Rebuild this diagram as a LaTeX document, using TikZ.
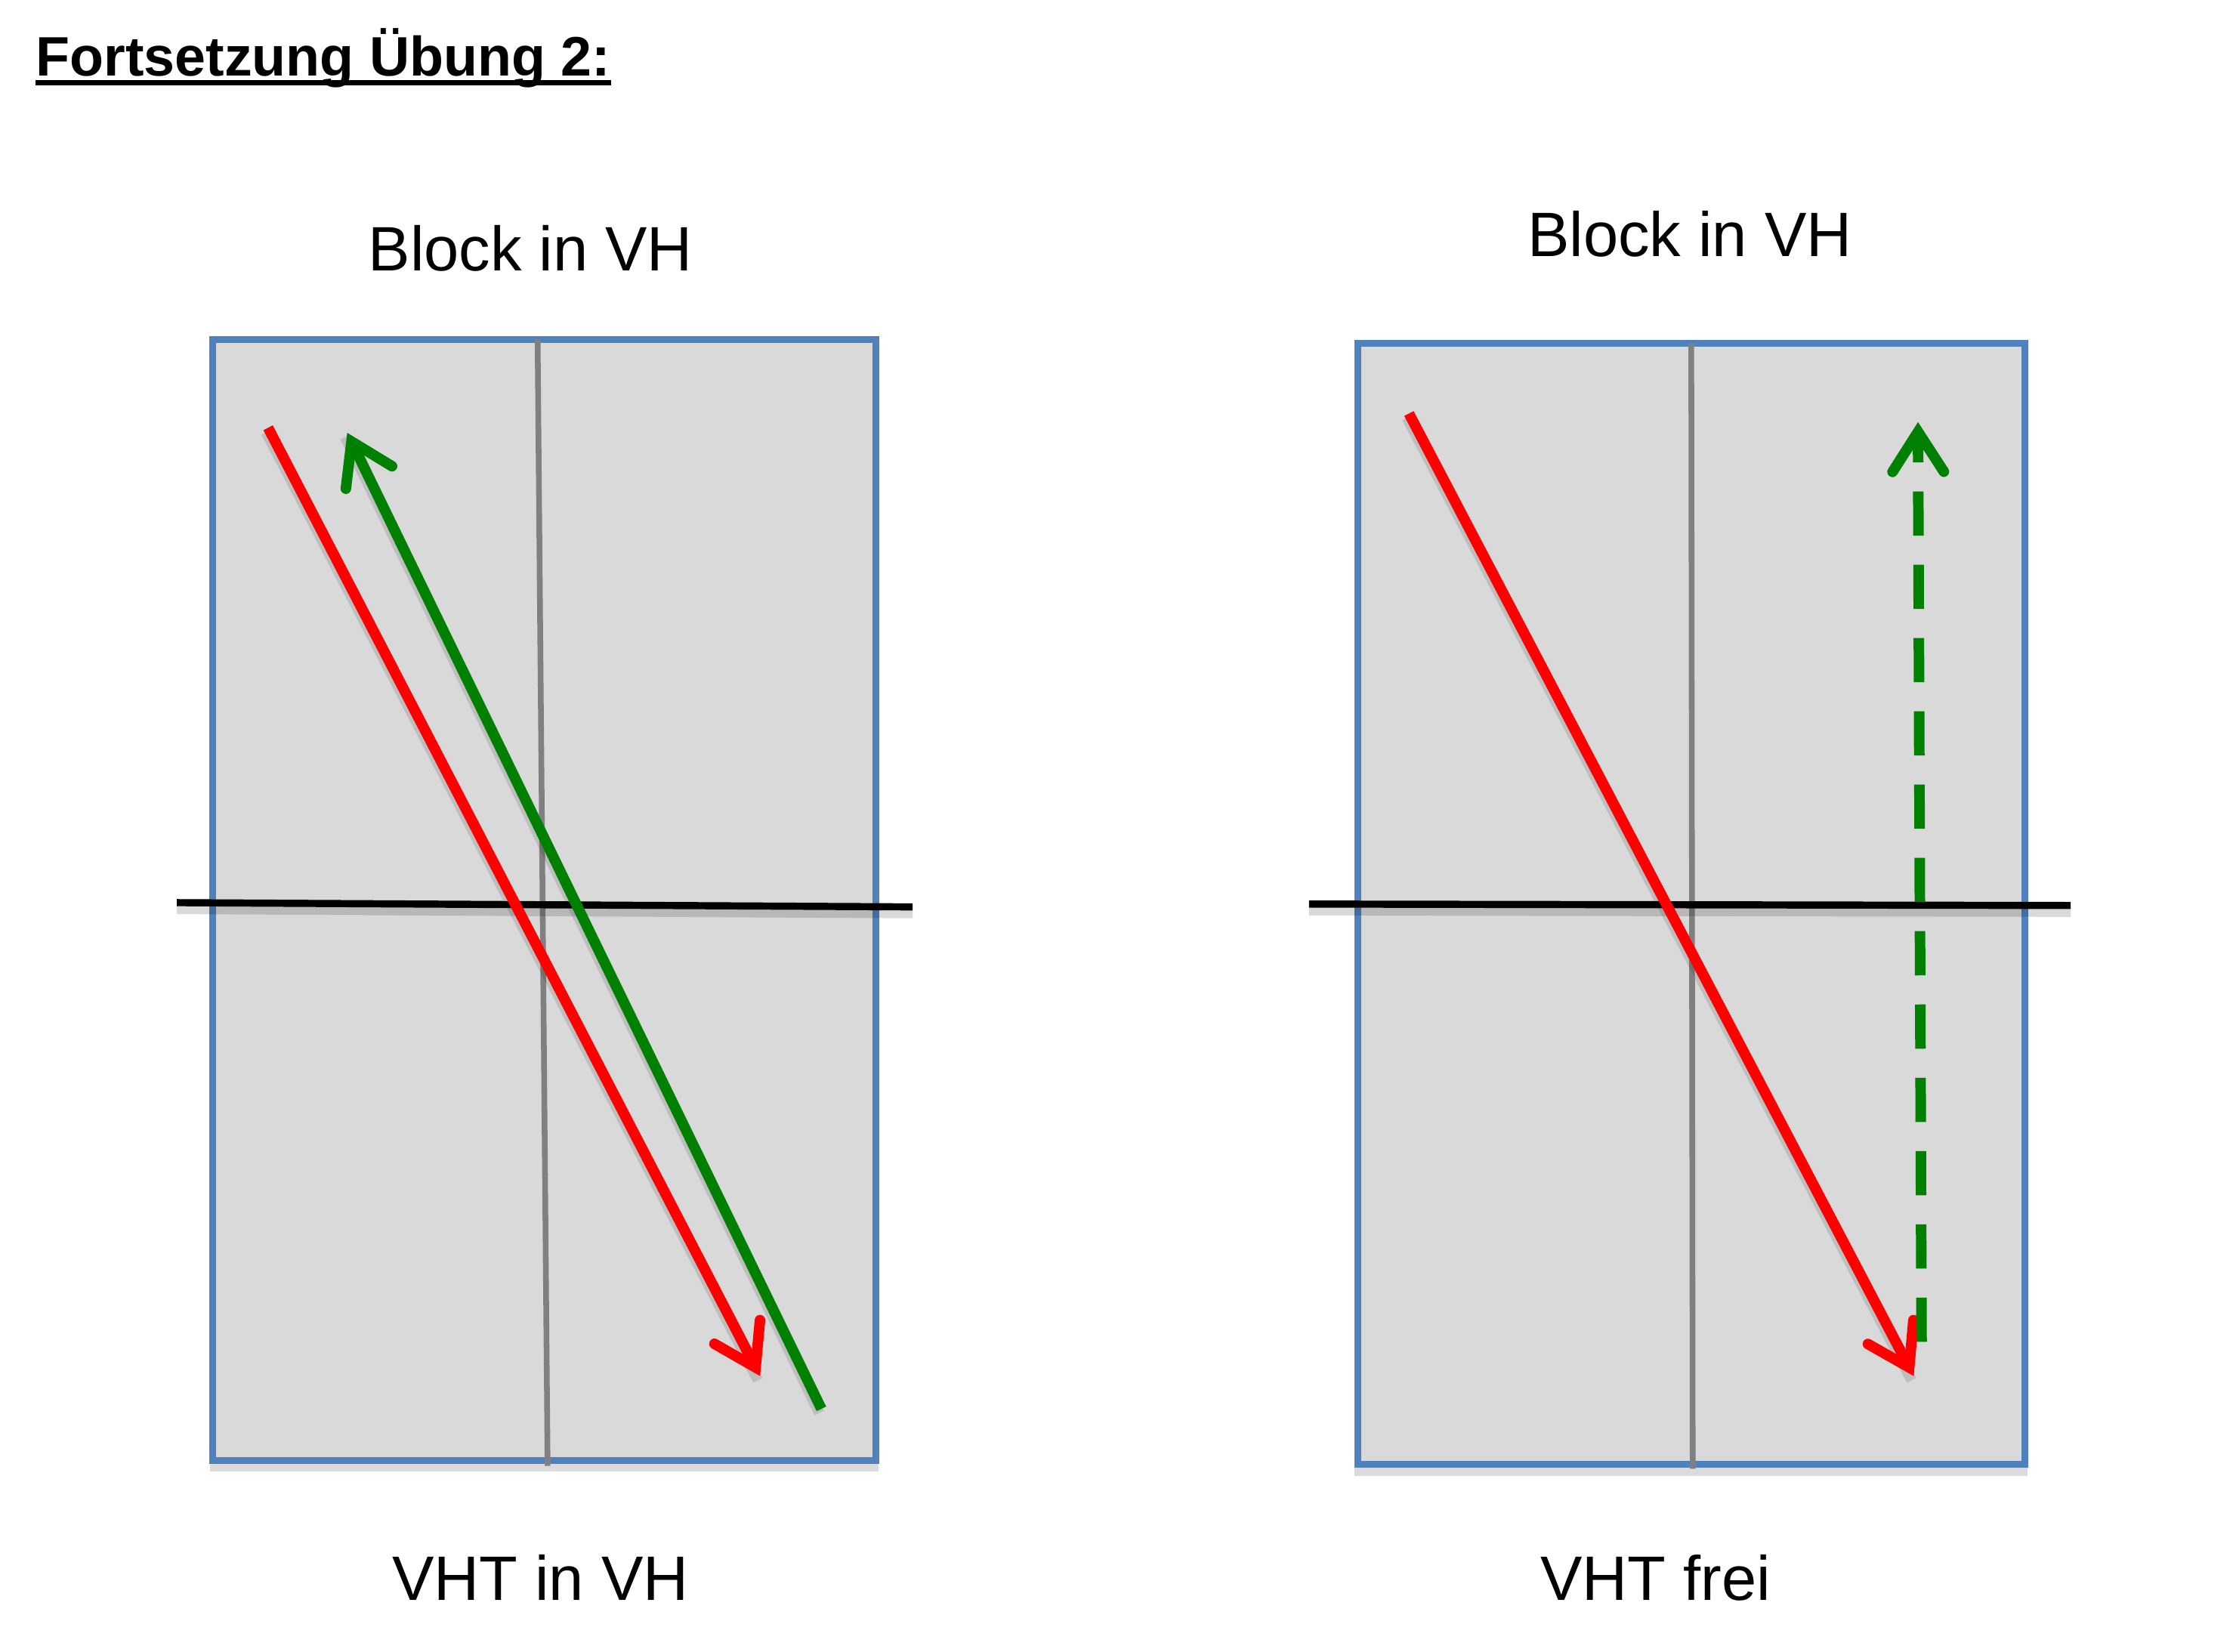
\documentclass[tikz,border=0pt]{standalone}
\usepackage{fontspec}
\setmainfont{Liberation Sans}
\usetikzlibrary{arrows.meta}
\definecolor{boxfill}{HTML}{D9D9D9}
\definecolor{boxline}{HTML}{4F81BD}
\definecolor{arrred}{HTML}{FF0000}
\definecolor{arrgreen}{HTML}{008000}
\definecolor{axisgray}{HTML}{808080}
\tikzset{
  panel/.style={draw=boxline, fill=boxfill, line width=4.8pt, rectangle, inner sep=0pt,
    minimum width=465pt, minimum height=786pt},
  panelshadow/.style={fill=black, opacity=0.14, draw=none},
  axisv/.style={draw=axisgray, line width=4pt},
  axish/.style={draw=black, line width=5pt},
  axishshadow/.style={draw=black, opacity=0.15, line width=6pt},
  vec/.style={line width=7.4pt, -{Straight Barb[length=28pt,width=36pt,line cap=round,line join=miter]}},
  vecshadow/.style={draw=black, opacity=0.12, line width=7.4pt},
  lbl/.style={font=\fontsize{44}{50}\selectfont, inner sep=0pt, anchor=base},
  ttl/.style={font=\fontsize{39}{44}\selectfont\bfseries, inner sep=0pt, anchor=base west}
}
\begin{document}
\begin{tikzpicture}[x=1pt,y=-1pt]
\useasboundingbox (0,0) rectangle (1568,1158);
\fill[white] (0,0) rectangle (1568,1158);

% title
\node[ttl] (title) at (25,53) {Fortsetzung Übung 2:};
\draw[line width=3.5pt] ([yshift=-5pt]title.base west) -- ([yshift=-5pt]title.base east);

% headings and captions
\node[lbl] (h1) at (372,190) {Block in VH};
\node[lbl] (h2) at (1185,180) {Block in VH};
\node[lbl] (c1) at (379,1122) {VHT in VH};
\node[lbl] (c2) at (1161,1122) {VHT frei};

% ---------- left panel ----------
\fill[panelshadow] (147,1026) rectangle (616,1032);
\node[panel] (boxL) at (381.5,631) {};
\coordinate (vLt) at (377,238);
\coordinate (vLb) at (384,1028);
\draw[axisv] (vLt) -- (vLb);
\coordinate (hLl) at (124,633);
\coordinate (hLr) at (640,636);
\draw[axishshadow] ([yshift=-5pt]hLl) -- ([yshift=-5pt]hLr);
\draw[axish] (hLl) -- (hLr);
\coordinate (rLs) at (188,300);
\coordinate (rLe) at (533,965);
\coordinate (gLs) at (576,988);
\coordinate (gLe) at (243.5,303.5);
\draw[vecshadow] ([shift={(-1.5pt,-3pt)}]rLs) -- ([shift={(-1.5pt,-3pt)}]rLe);
\draw[vecshadow] ([shift={(-1.5pt,-3pt)}]gLs) -- ([shift={(-1.5pt,-3pt)}]gLe);
\draw[vec, arrred] (rLs) -- (rLe);
\draw[vec, arrgreen] (gLs) -- (gLe);

% ---------- right panel ----------
\fill[panelshadow] (950,1029) rectangle (1422,1035);
\node[panel, minimum width=468pt] (boxR) at (1186,634) {};
\coordinate (vRt) at (1186,241);
\coordinate (vRb) at (1187,1030);
\draw[axisv] (vRt) -- (vRb);
\coordinate (hRl) at (918,634);
\coordinate (hRr) at (1452,635);
\draw[axishshadow] ([yshift=-5pt]hRl) -- ([yshift=-5pt]hRr);
\draw[axish] (hRl) -- (hRr);
\coordinate (rRs) at (988,290);
\coordinate (rRe) at (1342,965);
\coordinate (gRs) at (1347.5,941);
\coordinate (gRe) at (1345,296);
\draw[vecshadow] ([shift={(-1.5pt,-3pt)}]rRs) -- ([shift={(-1.5pt,-3pt)}]rRe);
\draw[vec, arrred] (rRs) -- (rRe);
\draw[vec, arrgreen, dash pattern=on 31pt off 20.4pt] (gRs) -- (gRe);
\end{tikzpicture}
\end{document}
